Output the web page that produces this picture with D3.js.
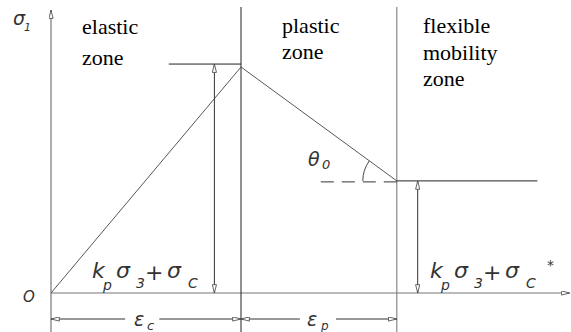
<!DOCTYPE html>
<html><head><meta charset="utf-8">
<script src="https://cdn.jsdelivr.net/npm/d3@7"></script>
</head>
<body style="margin:0">
<svg id="chart" width="571" height="332"></svg>
<script>
// ---- data (strain in units of εc, stress in units of peak strength) ----
const zoneNames = [["elastic","zone"],["plastic","zone"],["flexible","mobility","zone"]];
const zoneStart = [0, 1.0, 1.82];            // strain where each zone begins
const stressX = [0, 1.0, 1.82, 2.56];        // stress–strain curve, strain
const stressY = [0, 1.0, 0.496, 0.496];      // stress–strain curve, stress
const peakLevel = 1.013;                      // level of peak strength marker
const residualLevel = 0.496;                  // residual strength level
const axisMax = [2.73, 1.252];               // axis extents [strain, stress]

const svg = d3.select("#chart");
const x = d3.scaleLinear().domain([0, 1]).range([51, 241]);
const y = d3.scaleLinear().domain([0, 1]).range([293, 67]);

// markers
const defs = svg.append("defs");
defs.append("marker").attr("id", "arr").attr("viewBox","0 0 10 6")
  .attr("refX",10).attr("refY",3).attr("markerWidth",9).attr("markerHeight",5)
  .attr("markerUnits","userSpaceOnUse").attr("orient","auto-start-reverse")
  .append("path").attr("d","M0,0.5 L10,3 L0,5.5 Z")
  .attr("fill","#fff").attr("stroke","#444").attr("stroke-width",1);

const line = (x1,y1,x2,y2,color,w) => svg.append("line")
  .attr("x1",x1).attr("y1",y1).attr("x2",x2).attr("y2",y2)
  .attr("stroke",color||"#555").attr("stroke-width",w||1);

// axes
line(x(0), 332, x(0), y(axisMax[1]), "#777", 1.2).attr("marker-end","url(#arr)");
line(x(0), y(0), x(axisMax[0]), y(0), "#777", 1.2).attr("marker-end","url(#arr)");

// zone boundaries
line(x(zoneStart[1]), 7, x(zoneStart[1]), 332, "#222", 1);
line(x(zoneStart[2]), 7, x(zoneStart[2]), 332, "#888", 1.2);

// stress–strain curve
const pts = stressX.map((d,i)=>[x(d), y(stressY[i])]);
svg.append("path").attr("d", d3.line()(pts.slice(0,3)))
  .attr("fill","none").attr("stroke","#444").attr("stroke-width",0.9);
line(x(stressX[2]), y(stressY[2]), x(stressX[3]), y(stressY[3]), "#222", 1);

// peak strength marker and dimension
line(x(0.62), y(peakLevel), x(1.0), y(peakLevel), "#222", 1);
line(x(0.86), y(peakLevel), x(0.86), y(0), "#333", 1)
  .attr("marker-start","url(#arr)").attr("marker-end","url(#arr)");
// residual strength dimension
line(x(1.93), y(residualLevel), x(1.93), y(0), "#333", 1)
  .attr("marker-start","url(#arr)").attr("marker-end","url(#arr)");

// dashed reference + angle arc
line(x(1.42), y(residualLevel)+1, x(zoneStart[2]), y(residualLevel)+1, "#333", 1)
  .attr("stroke-dasharray","13,8");
const cx = x(stressX[2]), cy = y(stressY[2]);
const ang = Math.atan2(pts[1][1]-cy, pts[1][0]-cx);
const r = 34;
svg.append("path")
  .attr("d", `M${cx - r},${cy} A${r},${r} 0 0 1 ${cx + r*Math.cos(ang)},${cy + r*Math.sin(ang)}`)
  .attr("fill","none").attr("stroke","#444").attr("stroke-width",1);

// strain dimension lines
const dy = 319;
line(x(0), dy, x(0.39), dy, "#333", 1).attr("marker-start","url(#arr)");
line(x(0.57), dy, x(1.0), dy, "#333", 1).attr("marker-end","url(#arr)");
line(x(1.0), dy, x(1.31), dy, "#333", 1).attr("marker-start","url(#arr)");
line(x(1.5), dy, x(1.82), dy, "#333", 1).attr("marker-end","url(#arr)");

// zone labels
const zoneLabelX = [82, 282, 423];
const zoneBase = [[34,65],[33,59],[33,60,86]];
zoneNames.forEach((lines, i) => {
  lines.forEach((t, j) => {
    svg.append("text")
      .attr("x", zoneLabelX[i]).attr("y", zoneBase[i][j])
      .attr("font-size", 22)
      .style("font-family", "Liberation Serif")
      .text(t);
  });
});

// math labels
function mtext(px, py, s, size){
  return svg.append("text").attr("x",px).attr("y",py)
    .style("font-family", "DejaVu Sans").attr("font-style","italic")
    .attr("fill","#333").attr("font-size",size).text(s);
}
mtext(13, 25, "σ", 19); mtext(24, 31, "1", 11);
mtext(23, 302, "O", 15);
function kLabel(x0, star){
  mtext(x0, 278, "k", 22);
  mtext(x0+11, 290, "p", 14);
  mtext(x0+24, 278, "σ", 22);
  mtext(x0+44, 288, "3", 14);
  mtext(x0+53, 280, "+", 22);
  mtext(x0+75, 278, "σ", 22);
  mtext(x0+96, 288, "C", 14);
  if (star) mtext(x0+117, 270, "*", 14);
}
kLabel(92, false);
kLabel(430, true);
mtext(134, 326, "ε", 19); mtext(147, 330, "c", 13);
mtext(307, 326, "ε", 19); mtext(321, 330, "p", 12);
mtext(308, 166, "θ", 19); mtext(322, 169, "0", 13);
</script>
</body></html>
